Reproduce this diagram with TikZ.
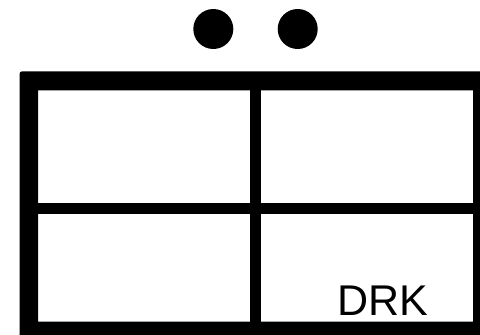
\documentclass[tikz,border=0pt]{standalone}
\usepackage{fontspec}
\setmainfont{Liberation Sans}
\usetikzlibrary{positioning}

\begin{document}
\begin{tikzpicture}[
    x=1pt, y=-1pt,
    dot/.style={circle, fill=black, minimum size=40pt, inner sep=0pt},
    frame/.style={fill=black, even odd rule},
    divider/.style={draw=black, line width=10.8pt},
    label/.style={inner sep=0pt, anchor=base west, font=\fontsize{43}{50}\selectfont}
]
    \useasboundingbox (0,0) rectangle (480,335);
    % two dots on top
    \node[dot] (dotleft) at (213.3,29) {};
    \node[dot, right=44pt of dotleft] (dotright) {};
    % frame (runs off the right and bottom edges) and panes
    \fill[frame] (19.5,335) -- (19.5,74) arc[start angle=180, end angle=270, radius=2.7]
        -- (480,71.3) -- (480,335) -- cycle
        (38,90.3) rectangle (473,321.5);
    \coordinate (vtop) at (255.6,90);
    \coordinate (vbottom) at (255.6,322);
    \coordinate (hleft) at (38,208.8);
    \coordinate (hright) at (473,208.8);
    \draw[divider] (vtop) -- (vbottom);
    \draw[divider] (hleft) -- (hright);
    \node[label] (drk) at (336.8,315) {DRK};
\end{tikzpicture}
\end{document}
